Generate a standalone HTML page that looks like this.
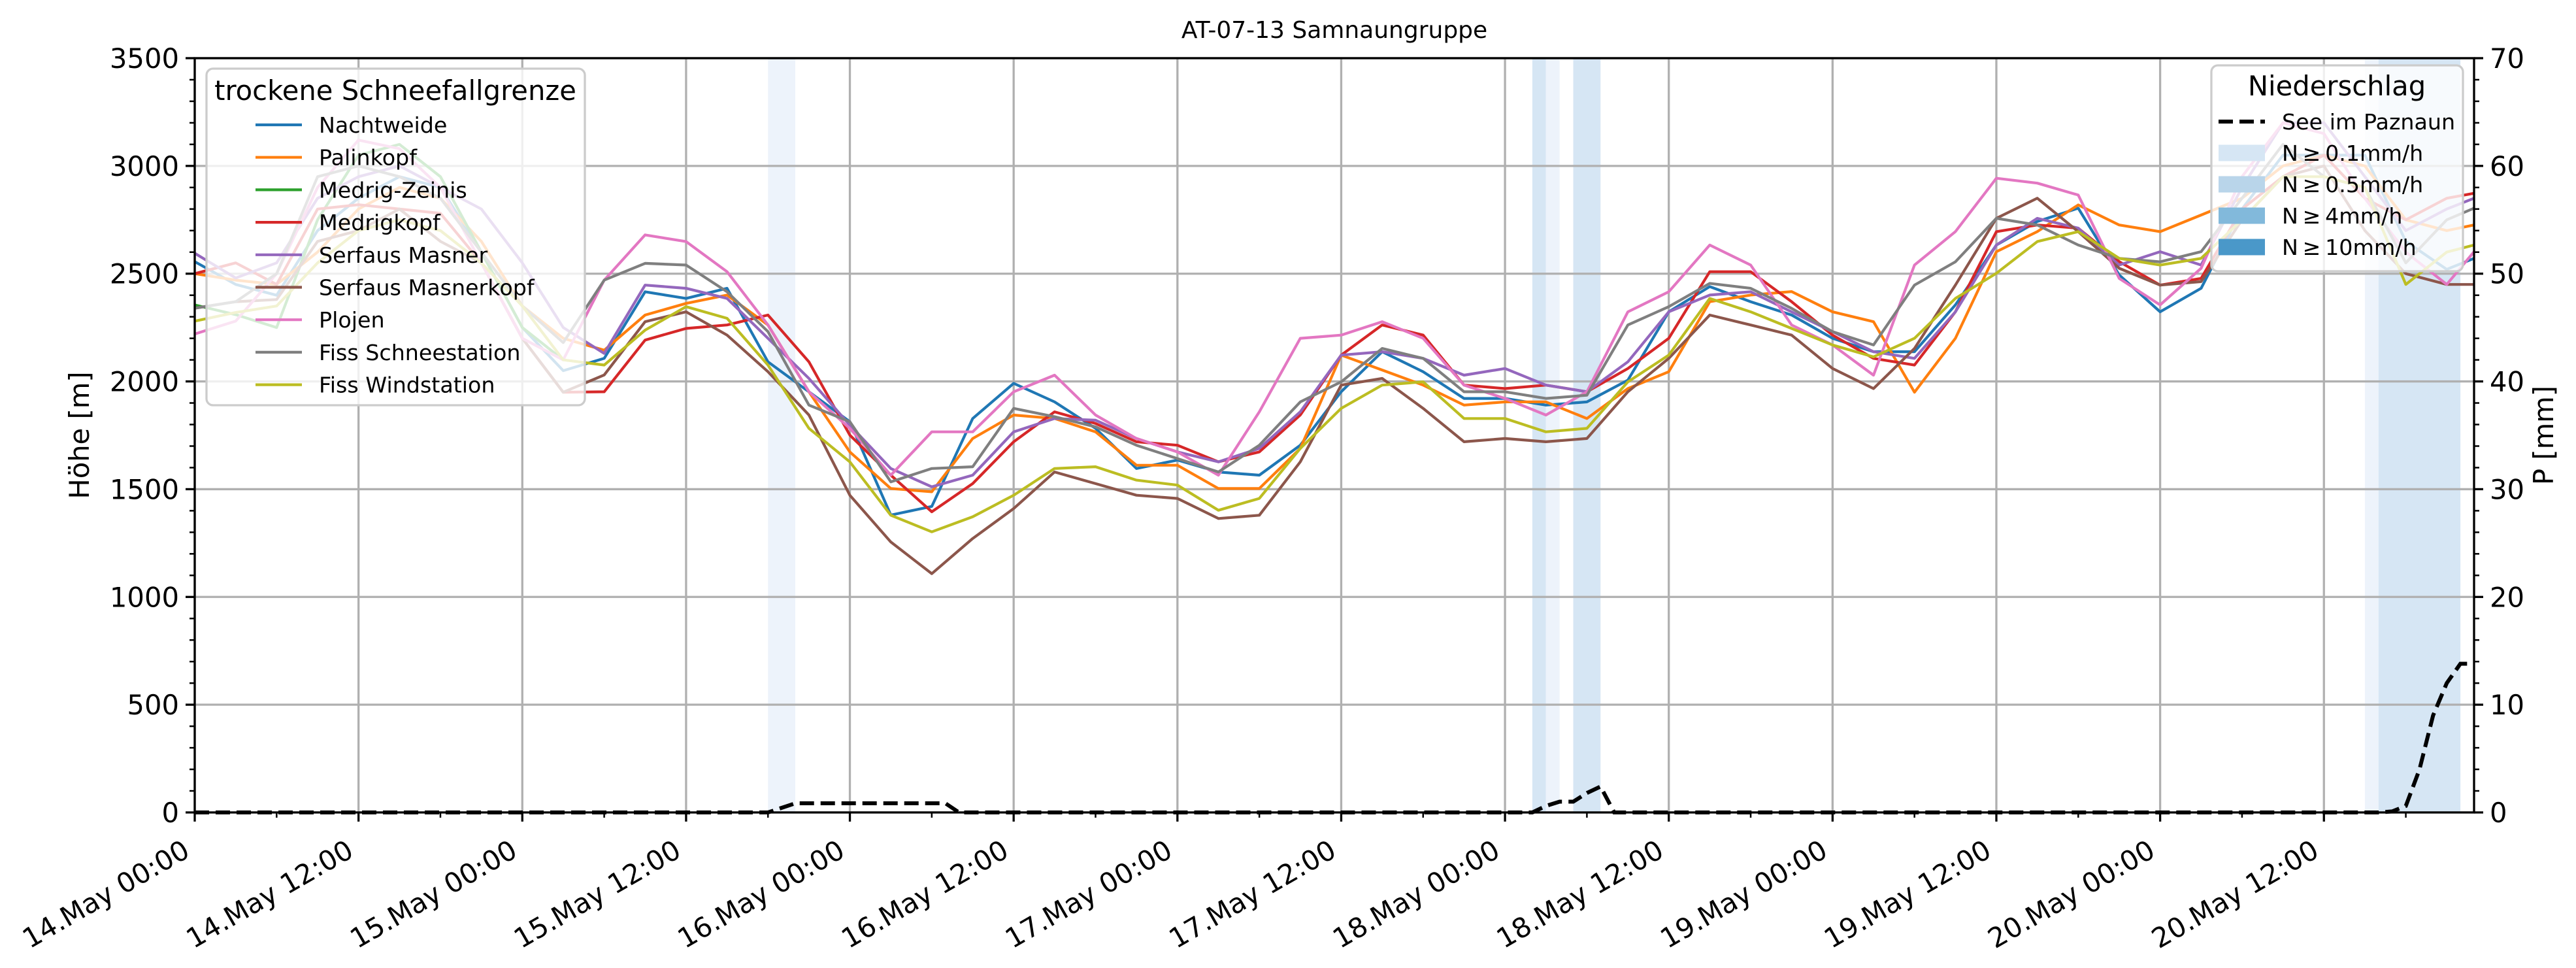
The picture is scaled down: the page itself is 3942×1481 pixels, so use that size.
<!DOCTYPE html>
<html><head><meta charset="utf-8">
<style>
html,body{margin:0;padding:0;background:#fff;}
svg{display:block;font-family:"DejaVu Sans","Liberation Sans",sans-serif;}
</style></head>
<body>
<svg id="chart" width="3942" height="1481" viewBox="0 0 3942 1481" xmlns="http://www.w3.org/2000/svg">
<rect x="0" y="0" width="3942" height="1481" fill="#fff"/>
<text x="2042" y="58" font-size="36" text-anchor="middle">AT-07-13 Samnaungruppe</text>
<g id="spans"></g>
<g id="grid"></g>
<g id="lines"></g>
<g id="axes"></g>
<g id="legends"></g>
</svg>
<script>
const hours = [0,3,6,9,12,15,18,21,24,27,30,33,36,39,42,45,48,51,54,57,60,63,66,69,72,75,78,81,84,87,90,93,96,99,102,105,108,111,114,117,120,123,126,129,132,135,138,141,144,147,150,153,156,159,162,165,167];
const seriesNames = ["Nachtweide","Palinkopf","Medrig-Zeinis","Medrigkopf","Serfaus Masner","Serfaus Masnerkopf","Plojen","Fiss Schneestation","Fiss Windstation"];
const seriesColors = ["#1f77b4","#ff7f0e","#2ca02c","#d62728","#9467bd","#8c564b","#e377c2","#7f7f7f","#bcbd22"];
const nachtweide = [2556,2450,2400,2700,2850,2950,2900,2600,2250,2050,2107,2416,2385,2432,2091,1952,1813,1380,1420,1828,1991,1905,1782,1596,1635,1580,1565,1704,1952,2138,2045,1921,1921,1890,1905,2006,2323,2440,2370,2308,2200,2138,2138,2355,2633,2742,2804,2494,2323,2432,2800,3050,3050,3050,2650,2520,2571];
const palinkopf = [2500,2470,2450,2600,2800,2900,2850,2650,2350,2200,2145,2308,2362,2401,2262,1952,1673,1503,1488,1735,1844,1828,1766,1611,1611,1503,1503,1689,2122,2053,1983,1890,1905,1905,1828,1967,2045,2370,2401,2417,2323,2277,1950,2200,2602,2695,2819,2726,2695,2772,2850,3000,3050,3000,2750,2700,2726];
const medrigZeinis = [2355,2310,2250,2750,3050,3100,2950,2600,2250,2100,null,null,null,null,null,null,null,null,null,null,null,null,null,null,null,null,null,null,null,null,null,null,null,null,null,null,null,null,null,null,null,null,null,null,null,null,null,null,null,null,null,null,null,null,null,null,null];
const medrigkopf = [2500,2550,2450,2800,2820,2800,2780,2550,2200,1950,1952,2192,2246,2262,2308,2091,1751,1565,1395,1526,1720,1859,1805,1720,1704,1627,1673,1844,2122,2262,2215,1983,1967,1983,1952,2060,2200,2509,2509,2370,2215,2107,2076,2323,2695,2726,2711,2556,2447,2478,2800,2950,3050,2850,2750,2850,2873];
const serfausMasner = [2595,2480,2550,2850,2950,3000,2900,2800,2550,2250,2130,2447,2432,2385,2200,2014,1797,1596,1511,1565,1766,1828,1820,1735,1673,1627,1689,1859,2122,2138,2107,2029,2060,1983,1952,2091,2323,2401,2416,2323,2231,2138,2107,2323,2633,2757,2711,2540,2602,2540,2900,3200,3200,2950,2700,2800,2850];
const serfausMasnerkopf = [2340,2370,2380,2650,2700,2800,2650,2550,2200,1950,2030,2277,2323,2215,2045,1844,1472,1255,1108,1271,1410,1580,1526,1472,1457,1364,1379,1627,1983,2014,1875,1720,1735,1720,1735,1952,2107,2308,2262,2215,2060,1967,2153,2447,2757,2850,2695,2525,2447,2463,2750,2950,3000,2700,2500,2450,2450];
const plojen = [2220,2280,2500,2900,3120,3080,2900,2550,2200,2100,2470,2680,2649,2509,2262,1952,1782,1565,1766,1766,1952,2029,1844,1735,1673,1565,1859,2200,2215,2277,2200,1983,1921,1844,1952,2323,2416,2633,2540,2262,2169,2029,2540,2695,2943,2920,2865,2478,2355,2525,2950,3200,3150,2850,2600,2450,2602];
const fissSchneestation = [2340,2370,2500,2950,3000,2950,2850,2600,2350,2180,2470,2548,2540,2416,2231,1890,1813,1534,1596,1604,1875,1836,1789,1704,1642,1580,1704,1905,1998,2153,2107,1952,1952,1921,1936,2262,2347,2455,2432,2339,2231,2169,2447,2555,2757,2726,2633,2571,2555,2602,2850,3100,2950,2900,2550,2750,2804];
const fissWindstation = [2280,2320,2350,2550,2700,2750,2700,2550,2350,2100,2076,2238,2347,2293,2076,1782,1627,1379,1302,1372,1472,1596,1604,1542,1519,1402,1457,1689,1875,1983,1998,1828,1828,1766,1782,1998,2122,2385,2323,2246,2169,2114,2200,2385,2502,2649,2695,2571,2540,2571,2750,2950,2950,2900,2450,2600,2633];
const seriesValues = [nachtweide,palinkopf,medrigZeinis,medrigkopf,serfausMasner,serfausMasnerkopf,plojen,fissSchneestation,fissWindstation];
const precipHours = [0,42,44,55,56,98,99,100,101,102,103,104,160,161,162,163,164,165,166,167];
const precipValues = [0,0,0.85,0.85,0,0,0.6,1,1,1.8,2.4,0,0,0.1,0.6,4,9,12,13.8,13.8];
const spanStarts = [42,98,99,101,159,160];
const spanEnds = [44,99,100,103,160,166];
const spanLevels = [0,1,0,1,0,1];
const xTickLabels = ["14.May 00:00","14.May 12:00","15.May 00:00","15.May 12:00","16.May 00:00","16.May 12:00","17.May 00:00","17.May 12:00","18.May 00:00","18.May 12:00","19.May 00:00","19.May 12:00","20.May 00:00","20.May 12:00"];
const yTicks = [0,500,1000,1500,2000,2500,3000,3500];
const y2Ticks = [0,10,20,30,40,50,60,70];

const NS="http://www.w3.org/2000/svg";
const L=298,R=3786,T=89,B=1243,XMAX=167;
const xs=h=>L+(R-L)*h/XMAX;
const ys=v=>B-(B-T)*v/3500;
const y2s=v=>B-(B-T)*v/70;
function mk(parent,tag,attrs){const e=document.createElementNS(NS,tag);for(const k in attrs)e.setAttribute(k,attrs[k]);parent.appendChild(e);return e;}

const spanColors=["#edf3fb","#d6e6f4"];
const gS=document.getElementById('spans');
for(let i=0;i<spanStarts.length;i++){
  const r=mk(gS,'rect',{x:xs(spanStarts[i]),y:T,width:xs(spanEnds[i])-xs(spanStarts[i]),height:B-T,fill:spanColors[spanLevels[i]]});
  
  
}
const gG=document.getElementById('grid');
for(const v of yTicks){const l=mk(gG,'line',{x1:L,x2:R,y1:ys(v),y2:ys(v),stroke:'#b0b0b0','stroke-width':3.3});
  
  }
for(let i=0;i<xTickLabels.length;i++){const x=xs(i*12);const l=mk(gG,'line',{x1:x,x2:x,y1:T,y2:B,stroke:'#b0b0b0','stroke-width':3.3});
  
  }
const gL=document.getElementById('lines');
for(let s=0;s<seriesValues.length;s++){
  let d='';let pen=false;
  for(let i=0;i<hours.length;i++){const v=seriesValues[s][i];if(v==null){pen=false;continue;}d+=(pen?'L':'M')+xs(hours[i]).toFixed(1)+','+ys(v).toFixed(1)+' ';pen=true;}
  const p=mk(gL,'path',{d:d,fill:'none',stroke:seriesColors[s],'stroke-width':4.2,'stroke-linejoin':'round'});
  
  
}
{let d='';for(let i=0;i<precipHours.length;i++){d+=(i?'L':'M')+xs(precipHours[i]).toFixed(1)+','+y2s(precipValues[i]).toFixed(1)+' ';}
 const p=mk(gL,'path',{d:d,fill:'none',stroke:'#000','stroke-width':6,'stroke-dasharray':'22,10'});
 
 }
const gA=document.getElementById('axes');
const fr=mk(gA,'rect',{x:L,y:T,width:R-L,height:B-T,fill:'none',stroke:'#000','stroke-width':3.3});


for(const v of yTicks){
  mk(gA,'line',{x1:L-14,x2:L,y1:ys(v),y2:ys(v),stroke:'#000','stroke-width':3.3});
  const t=mk(gA,'text',{x:L-24,y:ys(v)+15,'font-size':41.7,'text-anchor':'end'});t.textContent=v;
  
  
}
for(let v=100;v<3500;v+=100){if(v%500)mk(gA,'line',{x1:L-8,x2:L,y1:ys(v),y2:ys(v),stroke:'#000','stroke-width':2.5});}
for(const v of y2Ticks){
  mk(gA,'line',{x1:R,x2:R+14,y1:y2s(v),y2:y2s(v),stroke:'#000','stroke-width':3.3});
  const t=mk(gA,'text',{x:R+24,y:y2s(v)+15,'font-size':41.7,'text-anchor':'start'});t.textContent=v;
  
  
}
for(let v=2;v<70;v+=2){if(v%10)mk(gA,'line',{x1:R,x2:R+8,y1:y2s(v),y2:y2s(v),stroke:'#000','stroke-width':2.5});}
for(let i=0;i<xTickLabels.length;i++){
  const x=xs(i*12);
  mk(gA,'line',{x1:x,x2:x,y1:B,y2:B+14,stroke:'#000','stroke-width':3.3});
  const t=mk(gA,'text',{x:x-5,y:1309,'font-size':41.7,'text-anchor':'end',transform:`rotate(-30 ${x-5} 1309)`});
  t.textContent=xTickLabels[i];
  
  
}
for(let h=6;h<XMAX;h+=12){const x=xs(h);mk(gA,'line',{x1:x,x2:x,y1:B,y2:B+8,stroke:'#000','stroke-width':2.5});}
{const t=mk(gA,'text',{x:136,y:666,'font-size':41.7,'text-anchor':'middle',transform:'rotate(-90 136 666)'});t.textContent='Höhe [m]';
 
 }
{const t=mk(gA,'text',{x:3907,y:666,'font-size':41.7,'text-anchor':'middle',transform:'rotate(-90 3907 666)'});t.textContent='P [mm]';
 
 }
const gLg=document.getElementById('legends');
{const box=mk(gLg,'rect',{x:316,y:105,width:579,height:515,rx:10,fill:'#fff','fill-opacity':0.8,stroke:'#cccccc','stroke-width':3.3});
 
 
 const tt=mk(gLg,'text',{x:605,y:153,'font-size':41.7,'text-anchor':'middle'});tt.textContent='trockene Schneefallgrenze';
 
 
 for(let i=0;i<seriesNames.length;i++){const y=191+i*49.7;
  mk(gLg,'line',{x1:391,x2:462,y1:y,y2:y,stroke:seriesColors[i],'stroke-width':4.2});
  const t=mk(gLg,'text',{x:488,y:y+12,'font-size':33.3});t.textContent=seriesNames[i];
  
  }
}
{const box=mk(gLg,'rect',{x:3384,y:100,width:385,height:315,rx:10,fill:'#fff','fill-opacity':0.8,stroke:'#cccccc','stroke-width':3.3});
 
 
 const tt=mk(gLg,'text',{x:3576,y:146,'font-size':41.7,'text-anchor':'middle'});tt.textContent='Niederschlag';
 
 
 mk(gLg,'line',{x1:3395,x2:3466,y1:186,y2:186,stroke:'#000','stroke-width':6,'stroke-dasharray':'22,10'});
 const labels=['See im Paznaun','N\u2009\u2265\u20090.1mm/h','N\u2009\u2265\u20090.5mm/h','N\u2009\u2265\u20094mm/h','N\u2009\u2265\u200910mm/h'];
 const pc=['#d6e6f4','#b9d5ea','#82b9db','#4a98c9'];
 for(let i=0;i<5;i++){const y=186+i*48;
  if(i>0)mk(gLg,'rect',{x:3395,y:y-12.5,width:71,height:25,fill:pc[i-1]});
  const t=mk(gLg,'text',{x:3492,y:y+12,'font-size':33.3});t.textContent=labels[i];
  
  }
}
</script>
</body></html>
